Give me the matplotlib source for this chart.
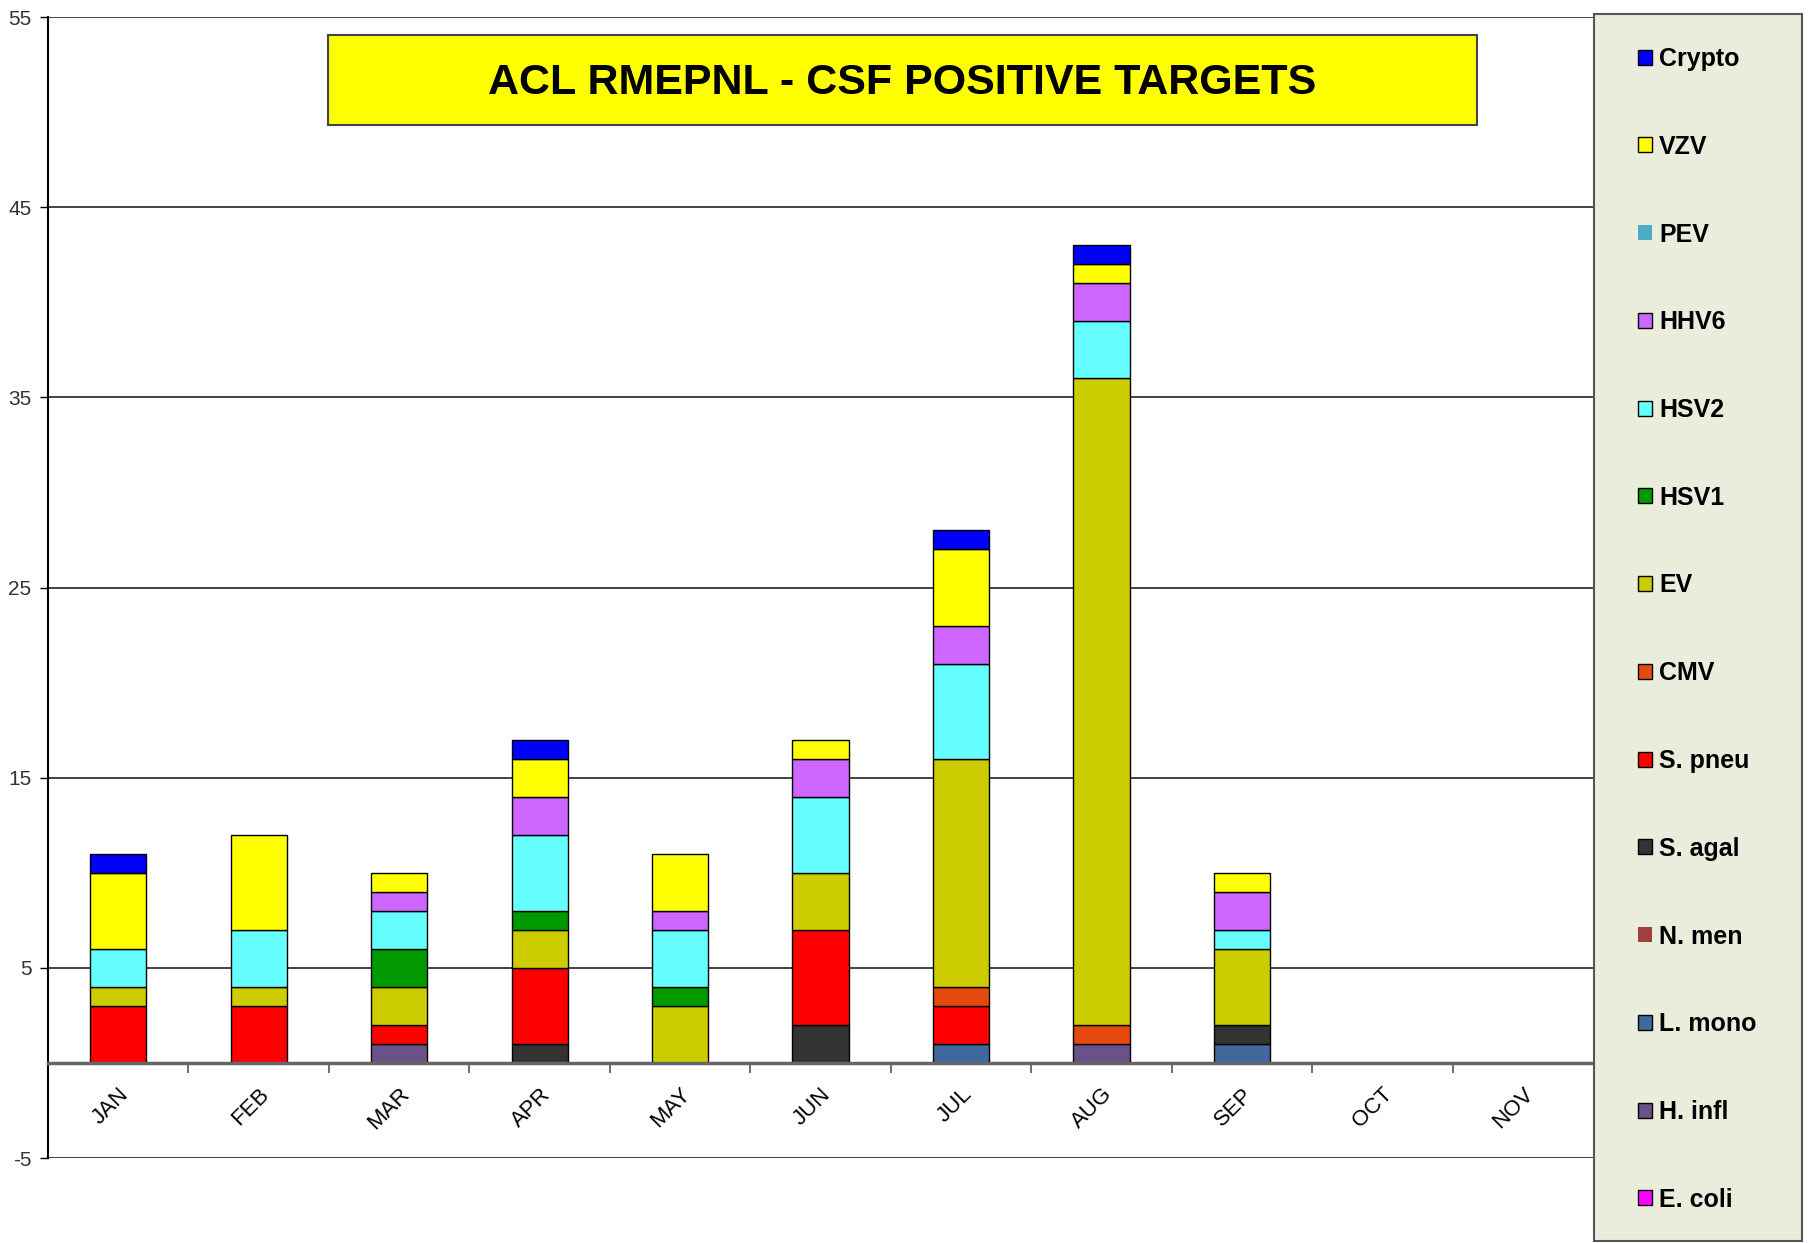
import numpy as np
import matplotlib
matplotlib.use("Agg")
import matplotlib.pyplot as plt
from matplotlib import font_manager
from matplotlib.patches import Rectangle, Patch

# data
months = ["JAN", "FEB", "MAR", "APR", "MAY", "JUN", "JUL", "AUG", "SEP", "OCT", "NOV"]

# series, bottom of the stack first
e_coli = [0, 0, 0, 0, 0, 0, 0, 0, 0, 0, 0]
h_infl = [0, 0, 1, 0, 0, 0, 0, 1, 0, 0, 0]
l_mono = [0, 0, 0, 0, 0, 0, 1, 0, 1, 0, 0]
n_men = [0, 0, 0, 0, 0, 0, 0, 0, 0, 0, 0]
s_agal = [0, 0, 0, 1, 0, 2, 0, 0, 1, 0, 0]
s_pneu = [3, 3, 1, 4, 0, 5, 2, 0, 0, 0, 0]
cmv = [0, 0, 0, 0, 0, 0, 1, 1, 0, 0, 0]
ev = [1, 1, 2, 2, 3, 3, 12, 34, 4, 0, 0]
hsv1 = [0, 0, 2, 1, 1, 0, 0, 0, 0, 0, 0]
hsv2 = [2, 3, 2, 4, 3, 4, 5, 3, 1, 0, 0]
hhv6 = [0, 0, 1, 2, 1, 2, 2, 2, 2, 0, 0]
pev = [0, 0, 0, 0, 0, 0, 0, 0, 0, 0, 0]
vzv = [4, 5, 1, 2, 3, 1, 4, 1, 1, 0, 0]
crypto = [1, 0, 0, 1, 0, 0, 1, 1, 0, 0, 0]

series = [
    ("E. coli", e_coli, "#FF00FF"),
    ("H. infl", h_infl, "#6A5189"),
    ("L. mono", l_mono, "#3F689C"),
    ("N. men", n_men, "#A04040"),
    ("S. agal", s_agal, "#333333"),
    ("S. pneu", s_pneu, "#FF0000"),
    ("CMV", cmv, "#E64A10"),
    ("EV", ev, "#CCCC00"),
    ("HSV1", hsv1, "#009900"),
    ("HSV2", hsv2, "#66FFFF"),
    ("HHV6", hhv6, "#CC66FF"),
    ("PEV", pev, "#4BACC6"),
    ("VZV", vzv, "#FFFF00"),
    ("Crypto", crypto, "#0000FF"),
]
no_edge_in_key = ["PEV", "N. men"]

title = "ACL RMEPNL - CSF POSITIVE TARGETS"

names = {f.name for f in font_manager.fontManager.ttflist}
narrow = "Liberation Sans Narrow" if "Liberation Sans Narrow" in names else "Liberation Sans"
plt.rcParams["font.family"] = narrow
plt.rcParams["axes.unicode_minus"] = False

W, H = 1811, 1243
fig = plt.figure(figsize=(W / 100, H / 100), dpi=100)
fig.patch.set_facecolor("white")

ax = fig.add_axes([48 / W, 1 - 1158 / H, (1593 - 48) / W, (1158 - 17) / H])
x = np.arange(len(months))
bottom = np.zeros(len(months))
for name, vals, color in series:
    vals = np.array(vals, dtype=float)
    lw = [1.0 if v > 0 else 0.0 for v in vals]
    ax.bar(x, vals, width=0.4, bottom=bottom, color=color,
           edgecolor="black", linewidth=lw, zorder=3)
    bottom += vals

ax.set_xlim(-0.5, len(months) - 0.5)
ax.set_ylim(-5, 55)
ax.set_yticks(np.arange(-5, 56, 10))
ax.tick_params(axis="y", labelsize=15, labelcolor="#333333", length=6,
               width=1, pad=6, direction="out")
ax.yaxis.grid(True, color="#222222", linewidth=1.2, zorder=0)
ax.set_axisbelow(True)

# zero line carries the month labels
for s in ["top", "right"]:
    ax.spines[s].set_visible(False)
ax.spines["left"].set_linewidth(1.5)
ax.spines["bottom"].set_position(("data", 0))
ax.spines["bottom"].set_color("#666666")
ax.spines["bottom"].set_linewidth(2.5)
ax.spines["bottom"].set_zorder(4)
ax.set_xticks(x)
ax.set_xticklabels(months, rotation=45, ha="right", rotation_mode="anchor",
                   fontsize=16)
ax.set_xticks(np.arange(0.5, len(months) - 0.5, 1), minor=True)
ax.tick_params(axis="x", which="major", length=0, pad=15)
ax.tick_params(axis="x", which="minor", length=7, width=1.2, color="#555555",
               direction="out")

# title box
fig.patches.append(Rectangle((328 / W, 1 - 125 / H), (1477 - 328) / W, 90 / H,
                             transform=fig.transFigure, facecolor="#FFFF00",
                             edgecolor="#444444", linewidth=1.5, zorder=5))
fig.text(902 / W, 1 - 83 / H, title, ha="center", va="center",
         fontsize=31, fontweight="bold", color="black", zorder=6)

# legend panel
fig.patches.append(Rectangle((1594 / W, 1 - 1241 / H), (1802 - 1594) / W, (1241 - 14) / H,
                             transform=fig.transFigure, facecolor="#EAEDDC",
                             edgecolor="#555555", linewidth=1.5, zorder=1))
handles = []
for name, vals, color in reversed(series):
    ec = "none" if name in no_edge_in_key else "black"
    handles.append(Patch(facecolor=color, edgecolor=ec, linewidth=1, label=name))
leg = fig.legend(handles=handles, loc="upper left",
                 bbox_to_anchor=(1638 / W, 1 - 47 / H), frameon=False,
                 prop={"family": narrow, "weight": "bold", "size": 18},
                 handlelength=0.55, handleheight=0.55, handletextpad=0.3,
                 labelspacing=2.55, borderpad=0, borderaxespad=0)
leg.set_zorder(6)

fig.savefig("out.png", dpi=100)
